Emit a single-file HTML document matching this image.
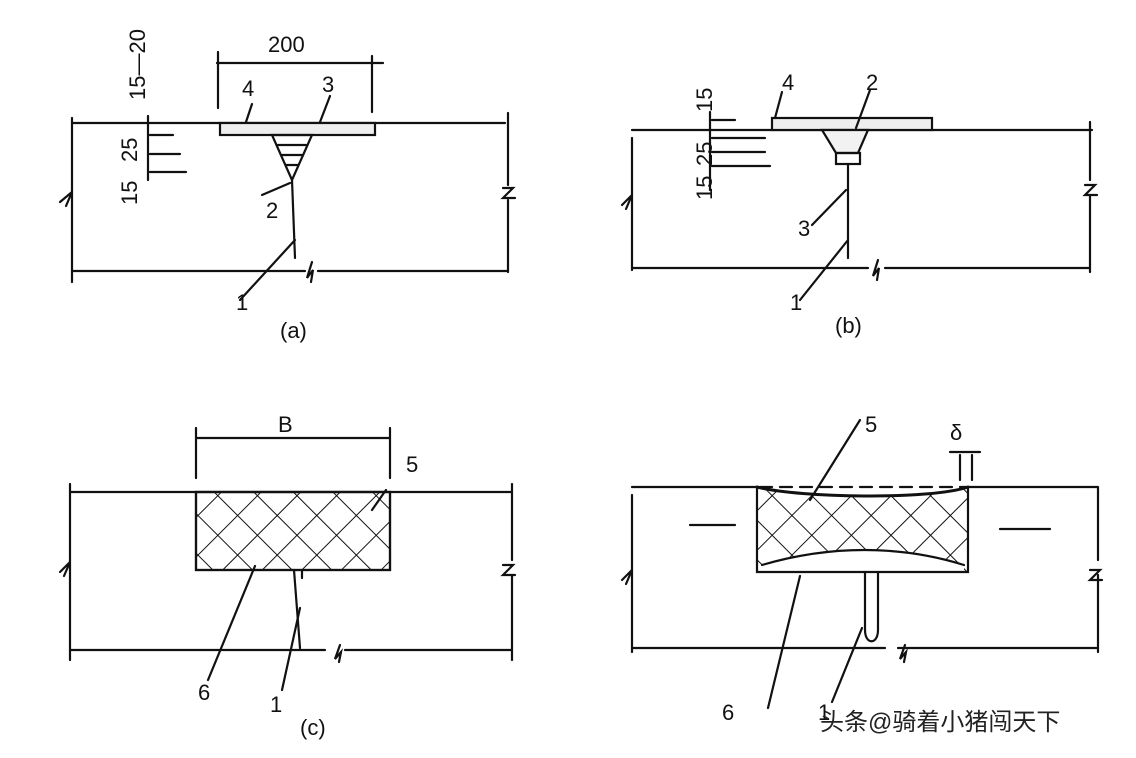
<!DOCTYPE html>
<html><head><meta charset="utf-8"><style>
html,body{margin:0;padding:0;background:#fff;}
svg{display:block;}
text{font-family:"Liberation Sans",sans-serif;fill:#111;}
</style></head><body>
<svg width="1136" height="758" viewBox="0 0 1136 758" xmlns="http://www.w3.org/2000/svg">
<defs>
<pattern id="xh" width="28" height="28" patternUnits="userSpaceOnUse" patternTransform="rotate(45)">
<path d="M0 0V28M0 0H28" stroke="#111" stroke-width="2" fill="none"/>
</pattern>
</defs>
<g stroke="#111" stroke-width="2.2" fill="none" stroke-linecap="round">
<!-- Panel a -->
<path d="M72 123H505M72 118V282M72 271H305M318 271H508M508 113V185M508 200V272"/>
<path d="M60 202l12-10l-6 14"/><path d="M503 188l10 0l-10 10l12 0"/>
<path d="M312 262l-5 16l6-8l-2 12"/>
<rect x="220" y="123" width="155" height="12" fill="#eee"/>
<path d="M272 135H312L292 180Z"/>
<path d="M278 145H306M282 155H302M286 165H298"/>
<path d="M292 180L295 258M295 240L240 300M290 183L262 195"/>
<path d="M217 63H383M218 52V108M372 56V112M252 104L246 122M330 96L320 122"/>
<path d="M150 135H173M150 154H180M150 172H186M148 116V180"/>
<!-- Panel b -->
<path d="M632 130H1092M632 138V270M632 268H868M885 268H1090M1090 122V180M1090 195V272"/>
<path d="M622 205l10-10l-6 14"/><path d="M1085 185l10 0l-10 10l12 0"/>
<path d="M878 260l-5 16l6-8l-2 12"/>
<rect x="772" y="118" width="160" height="12" fill="#eee"/>
<path d="M822 130H868L858 153H836Z" fill="#f2f2f2"/>
<rect x="836" y="153" width="24" height="11"/>
<path d="M848 164V258M846 190L812 225M848 240L800 300M782 92L775 118M870 90L856 128"/>
<path d="M712 120H735M712 138H765M712 152H765M712 166H770M710 112V190"/>
<!-- Panel c -->
<path d="M70 492H512M70 484V660M70 650H325M345 650H512M512 484V560M512 575V660"/>
<path d="M60 572l10-10l-6 14"/><path d="M503 565l10 0l-10 10l12 0"/>
<path d="M340 645l-5 14l6-7l-2 10"/>
<rect x="196" y="492" width="194" height="78" fill="url(#xh)"/>
<rect x="196" y="492" width="194" height="78"/>
<path d="M294 570L300 648M302 570V578M196 438H390M196 428V478M390 428V478M386 490L372 510"/>
<path d="M255 566L208 680M300 608L282 690"/>
<!-- Panel d -->
<path d="M632 487H757M968 487H1098M632 495V652M632 648H885M898 648H1098M1098 487V560M1098 575V652"/>
<path d="M622 580l10-10l-6 14"/><path d="M1090 570l10 0l-10 10l12 0"/>
<path d="M905 645l-5 14l6-7l-2 10"/>
<rect x="757" y="487" width="211" height="85" fill="url(#xh)" stroke="none"/>
<path d="M757 487C800 500 930 500 968 487Z" fill="#fff" stroke="none"/>
<path d="M762 565C830 545 900 545 964 565V571H762Z" fill="#fff" stroke="none"/>
<path d="M757 487V572H968V487"/>
<path d="M757 487C800 498 930 500 968 487" stroke-width="3"/>
<path d="M762 565C830 545 900 545 964 565"/>
<path d="M760 487H968" stroke-dasharray="12 8"/>
<path d="M865 572V630C865 645 878 645 878 630V572"/>
<path d="M960 480V455M972 480V455M950 452H980"/>
<path d="M690 525H735M1000 529H1050"/>
<path d="M800 576L768 708M862 628L832 702M860 420L810 500"/>
</g>
<g font-size="22">
<text x="268" y="52">200</text>
<text x="242" y="96">4</text>
<text x="322" y="92">3</text>
<text x="266" y="218">2</text>
<text x="236" y="310">1</text>
<text x="280" y="338">(a)</text>
<text x="0" y="0" transform="translate(145,100) rotate(-90)">15—20</text>
<text x="0" y="0" transform="translate(137,162) rotate(-90)">25</text>
<text x="0" y="0" transform="translate(137,205) rotate(-90)">15</text>
<text x="782" y="90">4</text>
<text x="866" y="90">2</text>
<text x="798" y="236">3</text>
<text x="790" y="310">1</text>
<text x="835" y="333">(b)</text>
<text x="0" y="0" transform="translate(712,112) rotate(-90)">15</text>
<text x="0" y="0" transform="translate(712,166) rotate(-90)">25</text>
<text x="0" y="0" transform="translate(712,200) rotate(-90)">15</text>
<text x="278" y="432">B</text>
<text x="406" y="472">5</text>
<text x="198" y="700">6</text>
<text x="270" y="712">1</text>
<text x="300" y="735">(c)</text>
<text x="865" y="432">5</text>
<text x="950" y="440">δ</text>
<text x="722" y="720">6</text>
<text x="818" y="720">1</text>
</g>
<text x="820" y="730" font-size="24" style="font-family:'Liberation Sans','Noto Sans CJK SC',sans-serif;fill:#222">头条@骑着小猪闯天下</text>
</svg>
</body></html>
